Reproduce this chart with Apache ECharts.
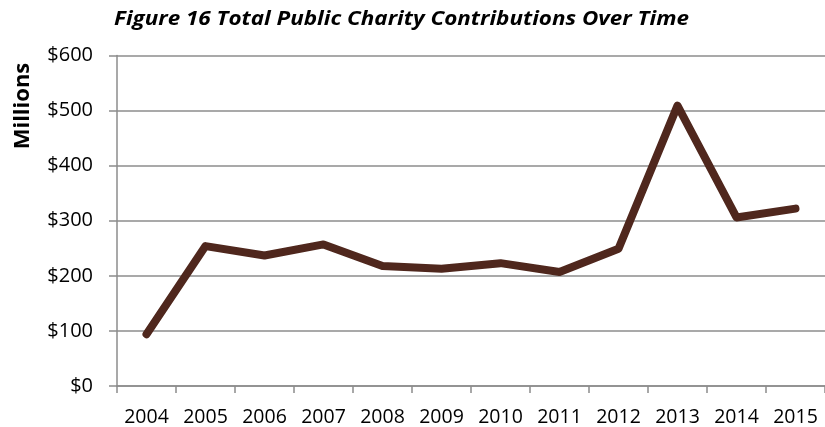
<!DOCTYPE html>
<html><head><meta charset="utf-8">
<script src="https://cdn.jsdelivr.net/npm/echarts@6/dist/echarts.min.js"></script>
<style>html,body{margin:0;padding:0;background:#fff}#c{width:825px;height:427px}</style>
</head><body><div id="c"></div>
<script>
const titleText = 'Figure 16 Total Public Charity Contributions Over Time';
const yAxisTitle = 'Millions';
const years = ['2004','2005','2006','2007','2008','2009','2010','2011','2012','2013','2014','2015'];
const contributions = [94, 254, 237, 257, 218, 213, 223, 207, 249, 509, 306, 322];
const yTicks = {min: 0, max: 600, interval: 100};

const chart = echarts.init(document.getElementById('c'), null, {renderer: 'canvas'});
chart.setOption({
  animation: false,
  graphic: [{
    type: 'text', x: 114, y: 9, scaleX: 1.15,
    style: {text: titleText, fontFamily: 'Open Sans', fontWeight: 'bold', fontStyle: 'italic', fontSize: 19.5, fill: '#000',
      align: 'left', verticalAlign: 'top'}
  }, {
    type: 'text', x: 12, y: 106, rotation: Math.PI / 2,
    style: {text: yAxisTitle, fontFamily: 'Open Sans', fontWeight: 'bold', fontSize: 22, fill: '#000',
      align: 'center', verticalAlign: 'top'}
  }],
  grid: {left: 117, top: 55.5, width: 716.4, height: 331, containLabel: false},
  xAxis: {
    type: 'category', data: years, boundaryGap: true,
    axisLine: {lineStyle: {color: '#8c8c8c', width: 1.5}},
    axisTick: {show: true, alignWithLabel: false, length: 7, lineStyle: {color: '#8c8c8c', width: 1.5}},
    axisLabel: {color: '#000', fontFamily: 'Open Sans', fontSize: 19.5, margin: 21, interval: 0}
  },
  yAxis: {
    type: 'value', min: yTicks.min, max: yTicks.max, interval: yTicks.interval,
    axisLine: {show: true, lineStyle: {color: '#8c8c8c', width: 1.5}},
    axisTick: {show: true, length: 8, lineStyle: {color: '#8c8c8c', width: 1.5}},
    splitLine: {show: true, lineStyle: {color: '#8c8c8c', width: 1.5}},
    axisLabel: {color: '#000', fontFamily: 'Open Sans', fontSize: 20, margin: 24, formatter: v => '$' + v}
  },
  series: [{
    type: 'line', data: contributions, symbol: 'none',
    lineStyle: {color: '#4f271d', width: 8, cap: 'round', join: 'round'}
  }]
});
</script></body></html>
